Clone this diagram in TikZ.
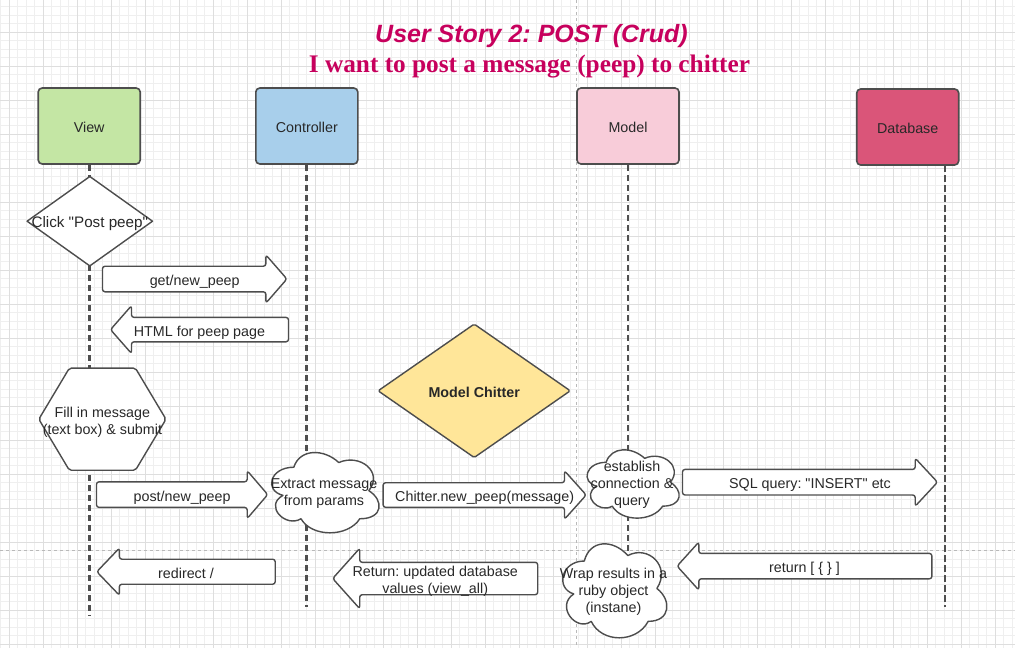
\documentclass[tikz,border=0pt]{standalone}
\usepackage{fontspec}
\usetikzlibrary{calc}

\newfontfamily\sansfam{Liberation Sans}
\newfontfamily\seriffam{Liberation Serif}
\newcommand\lblfont{\sansfam\fontsize{14.3}{17}\selectfont}
% invisible strut: fixes the height and depth of one-line labels
\newcommand\lblstrut{\rule[-3.5pt]{0pt}{20pt}}
% stacked label lines, 17pt apart, with a taller first row
\newcommand\mlines[1]{\begin{tabular}{@{}c@{}}\rule{0pt}{18pt}#1\end{tabular}}

\definecolor{titlecol}{RGB}{199,0,93}
\definecolor{textcol}{RGB}{40,40,40}
\definecolor{strokecol}{RGB}{77,77,77}
\definecolor{lifecol}{RGB}{78,78,78}
\definecolor{minorgrid}{RGB}{239,239,239}
\definecolor{majorgrid}{RGB}{222,222,222}
\definecolor{breakcol}{RGB}{185,185,185}
\definecolor{viewfill}{RGB}{196,230,164}
\definecolor{ctrlfill}{RGB}{168,207,235}
\definecolor{modelfill}{RGB}{248,204,217}
\definecolor{dbfill}{RGB}{218,85,121}
\definecolor{chitterfill}{RGB}{255,230,153}

\pgfdeclarelayer{bg}
\pgfdeclarelayer{shapes}
\pgfsetlayers{bg,shapes,main}

\tikzset{
  lbl/.style={font=\lblfont, text=textcol, align=center, inner sep=0pt,
    execute at begin node=\lblstrut, execute at end node=\lblstrut},
  lanebox/.style={lbl, draw=strokecol, line width=1.6pt, rounded corners=4pt,
    minimum width=102pt, minimum height=76pt},
  outline/.style={draw=strokecol, line width=1.4pt, fill=white, line join=round},
  lifeline/.style={draw=lifecol, line width=2.7pt, dash pattern=on 6.5pt off 3.5pt},
  pagebreak/.style={draw=breakcol, line width=0.8pt, dash pattern=on 3pt off 3pt},
}

% block arrow pointing right: name, left x, tip x, centre y, half body, half head, head length, label
\newcommand\arrowR[8]{%
  \node[lbl, minimum width={#3-(#2)}, minimum height={2*(#6)}] (#1) at ({((#2)+(#3))/2},#4) {#8};
  \begin{pgfonlayer}{shapes}
    \draw[outline, rounded corners=2.5pt]
      ($(#1.west)+(0,-#5)$) -- ($(#1.east)+(-#7,-#5)$) -- ($(#1.north east)+(-#7,0)$)
      -- (#1.east) -- ($(#1.south east)+(-#7,0)$) -- ($(#1.east)+(-#7,#5)$)
      -- ($(#1.west)+(0,#5)$) -- cycle;
  \end{pgfonlayer}}

% block arrow pointing left: name, tip x, right x, centre y, half body, half head, head length, label
\newcommand\arrowL[8]{%
  \node[lbl, minimum width={#3-(#2)}, minimum height={2*(#6)}] (#1) at ({((#2)+(#3))/2},#4) {#8};
  \begin{pgfonlayer}{shapes}
    \draw[outline, rounded corners=2.5pt]
      ($(#1.east)+(0,-#5)$) -- ($(#1.west)+(#7,-#5)$) -- ($(#1.north west)+(#7,0)$)
      -- (#1.west) -- ($(#1.south west)+(#7,0)$) -- ($(#1.west)+(#7,#5)$)
      -- ($(#1.east)+(0,#5)$) -- cycle;
  \end{pgfonlayer}}

% cloud: name, left, top, right, bottom, label
\newcommand\cloudnode[6]{%
  \node[lbl, minimum width={#4-(#2)}, minimum height={#5-(#3)}] (#1)
    at ({((#2)+(#4))/2},{((#3)+(#5))/2}) {#6};
  \begin{pgfonlayer}{shapes}
    \begin{scope}[shift={(#1.north west)}, xscale={#4-(#2)}, yscale={#5-(#3)}]
      \draw[outline] (0.25,0.25)
        .. controls (0.05,0.25) and (0,0.5) .. (0.16,0.55)
        .. controls (0,0.66) and (0.18,0.9) .. (0.31,0.8)
        .. controls (0.4,1) and (0.7,1) .. (0.8,0.8)
        .. controls (1,0.8) and (1,0.6) .. (0.875,0.5)
        .. controls (1,0.3) and (0.8,0.1) .. (0.625,0.2)
        .. controls (0.5,0.05) and (0.3,0.05) .. (0.25,0.25) -- cycle;
    \end{scope}
  \end{pgfonlayer}}

\begin{document}
\frenchspacing
\begin{tikzpicture}[x=1pt,y=-1pt]
\useasboundingbox (0,0) rectangle (1015,648);

% canvas grid and page breaks
\begin{pgfonlayer}{bg}
  \fill[white] (0,0) rectangle (1015,648);
  \foreach \i in {0,...,119} \draw[minorgrid, line width=0.9pt] ({0.9+8.5*\i},0) -- ++(0,648);
  \foreach \i in {0,...,75}  \draw[minorgrid, line width=0.9pt] (0,{6.8+8.5*\i}) -- ++(1015,0);
  \foreach \i in {0,...,29}  \draw[majorgrid, line width=0.9pt] ({9.4+34*\i},0) -- ++(0,648);
  \foreach \i in {0,...,18}  \draw[majorgrid, line width=0.9pt] (0,{32.3+34*\i}) -- ++(1015,0);
  \draw[pagebreak] (576.5,0) -- (576.5,648);
  \draw[pagebreak] (0,550) -- (1015,550);
\end{pgfonlayer}

% title
\node[font={\sansfam\bfseries\itshape\fontsize{25}{30}\selectfont}, text=titlecol, anchor=base, inner sep=0pt]
  (title) at (531.5,42.7) {User Story 2: POST (Crud)};
\node[font={\seriffam\bfseries\fontsize{25.3}{30}\selectfont}, text=titlecol, anchor=base, inner sep=0pt]
  (subtitle) at (529.5,72.7) {I want to post a message (peep) to chitter};

% lanes
\node[lanebox, fill=viewfill]  (view)  at (89.2,126)  {View};
\node[lanebox, fill=ctrlfill]  (ctrl)  at (306.8,126) {Controller};
\node[lanebox, fill=modelfill] (model) at (628,126)   {Model};
\node[lanebox, fill=dbfill]    (db)    at (907.7,127) {Database};

\coordinate (viewEnd)  at (89.2,616);
\coordinate (ctrlEnd)  at (306.8,607);
\coordinate (modelEnd) at (628,600);
\coordinate (dbTop)    at (945,165);
\coordinate (dbEnd)    at (945,607);

\begin{pgfonlayer}{bg}
  \draw[lifeline] (view.south)  -- (viewEnd);
  \draw[lifeline] (ctrl.south)  -- (ctrlEnd);
  \draw[lifeline] (model.south) -- (modelEnd);
  \draw[lifeline] (dbTop) -- (dbEnd);
\end{pgfonlayer}

% view steps
\node[lbl, font={\sansfam\fontsize{15.2}{18}\selectfont}, minimum width=125, minimum height=89]
  (click) at (89.8,221.2) {Click "Post peep"};
\node[lbl, minimum width=126.7, minimum height=101.7] (fillin) at (102.4,419.2)
  {\mlines{Fill in message\\(text box) \& submit}};
\node[lbl, font={\sansfam\bfseries\fontsize{14.3}{17}\selectfont}, minimum width=191.7, minimum height=133]
  (chitter) at (474.2,390.8) {Model Chitter};
\begin{pgfonlayer}{shapes}
  \draw[outline] (click.west) -- (click.north) -- (click.east) -- (click.south) -- cycle;
  \draw[outline, rounded corners=2pt] (fillin.west) -- ($(fillin.north west)+(30.5,0)$)
    -- ($(fillin.north east)+(-30.5,0)$) -- (fillin.east) -- ($(fillin.south east)+(-30.5,0)$)
    -- ($(fillin.south west)+(30.5,0)$) -- cycle;
  \draw[outline, fill=chitterfill, rounded corners=1.5pt]
    (chitter.west) -- (chitter.north) -- (chitter.east) -- (chitter.south) -- cycle;
\end{pgfonlayer}

% messages
\arrowR{getpeep}{102.7}{286.7}{279}{12.8}{23.9}{21}{get/new\_peep}
\arrowL{htmlpage}{110.7}{288.3}{329.6}{12.2}{23.7}{21}{HTML for peep page}
\arrowR{postpeep}{96.7}{267.5}{494.6}{12.8}{23.7}{20.5}{post/new\_peep}
\arrowR{newpeep}{383.3}{586}{495}{12.3}{24}{21.7}{Chitter.new\_peep(message)}
\arrowR{sqlquery}{682.7}{937.3}{482.2}{12.8}{23.8}{22.3}{SQL query: "INSERT" etc}
\arrowL{returnrows}{677.3}{931.7}{566.1}{12.7}{23.8}{21.7}{return [ \{ \} ]}
\arrowL{returnvals}{332.9}{537.5}{578.5}{16.2}{30}{27}{\mlines{Return: updated database\\values (view\_all)}}
\arrowL{redirect}{97}{275}{571.7}{12.5}{23.4}{22.6}{redirect /}

% processing steps
\cloudnode{extract}{264}{444}{384}{537.7}{\mlines{Extract message\\from params}}
\cloudnode{connect}{580.6}{442.6}{683.4}{522.3}{\mlines{establish\\connection \&\\query}}
\cloudnode{wrap}{555.4}{533.8}{671.6}{643.5}{\mlines{Wrap results in a\\ruby object\\(instane)}}

\end{tikzpicture}
\end{document}
